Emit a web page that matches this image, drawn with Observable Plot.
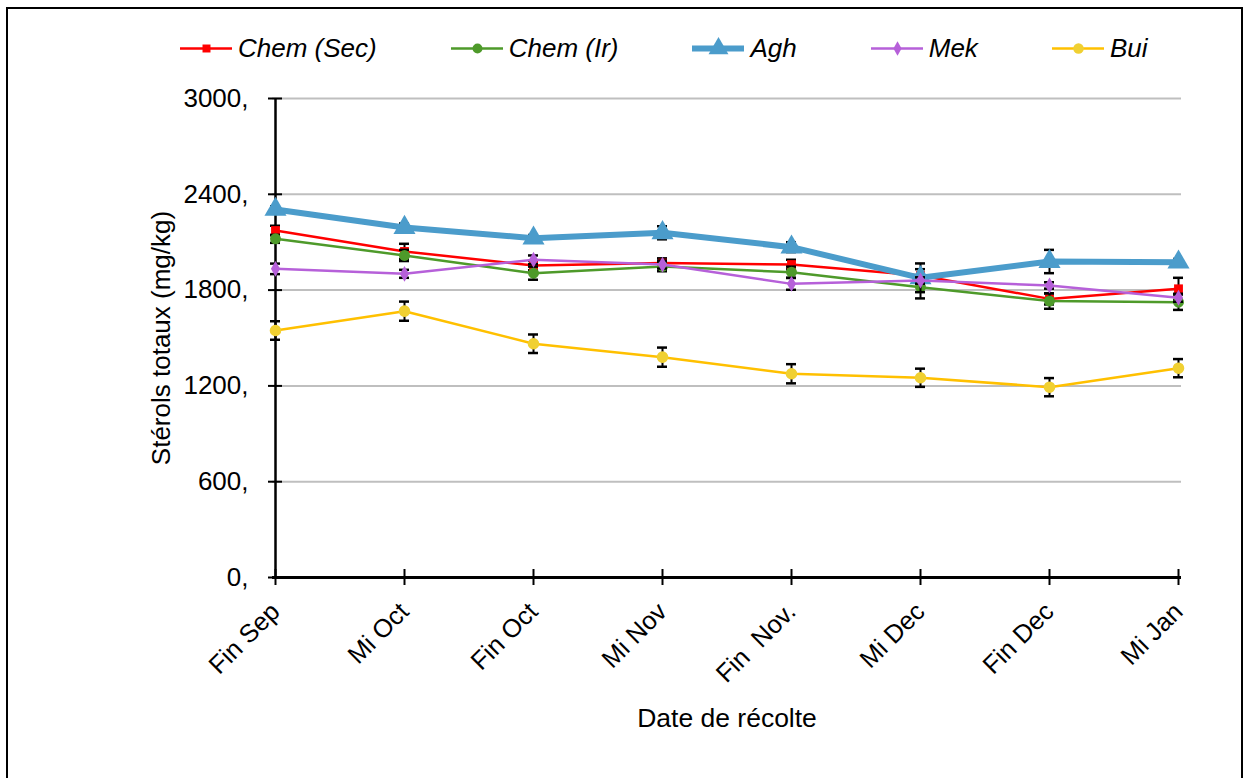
<!DOCTYPE html>
<html>
<head>
<meta charset="utf-8">
<script src="https://cdn.jsdelivr.net/npm/d3@7"></script>
<script src="https://cdn.jsdelivr.net/npm/@observablehq/plot@0.6"></script>
<style>
  body { margin: 0; background: #fff; font-family: "Liberation Sans", Arial, sans-serif; }
  #wrap { position: relative; width: 1250px; height: 778px; overflow: hidden; background: #fff; }
  #frame { position: absolute; left: 6px; top: 7px; width: 1237px; height: 840px; border: 2px solid #000; box-sizing: border-box; }
  #legend { position: absolute; left: 180px; top: 30px; height: 36px; display: flex; align-items: center; gap: 74px; }
  .item { display: flex; align-items: center; gap: 6px; font-style: italic; font-size: 26px; color: #000; }
  #chart { position: absolute; left: 0; top: 80px; }
  #chart svg text { white-space: pre; }
</style>
</head>
<body>
<div id="wrap">
  <div id="frame"></div>
  <div id="legend"></div>
  <div id="chart"></div>
</div>
<script>
// ---- data ----
const categories = ["Fin Sep", "Mi Oct", "Fin Oct", "Mi Nov", "Fin  Nov.", "Mi Dec", "Fin Dec", "Mi Jan"];
const seriesNames = ["Chem (Sec)", "Chem (Ir)", "Agh", "Mek", "Bui"];
const chemSec = [2173, 2042, 1954, 1969, 1960, 1891, 1745, 1808];
const chemIr  = [2121, 2017, 1906, 1948, 1912, 1818, 1731, 1724];
const agh     = [2305, 2192, 2125, 2159, 2069, 1877, 1979, 1975];
const mek     = [1933, 1902, 1990, 1960, 1839, 1860, 1829, 1752];
const bui     = [1547, 1668, 1464, 1380, 1276, 1251, 1192, 1311];
const chemSecErr = [30, 48, 30, 30, 30, 40, 35, 69];
const chemIrErr  = [25, 35, 41, 30, 35, 70, 48, 48];
const aghErr     = [20, 25, 20, 41, 31, 90, 73, 20];
const mekErr     = [33, 25, 27, 25, 37, 20, 20, 25];
const buiErr     = [58, 60, 58, 60, 60, 57, 57, 57];
const yTicks = [0, 600, 1200, 1800, 2400, 3000];
const xTitle = "Date de récolte";
const yTitle = "Stérols totaux (mg/kg)";

// ---- styles per series ----
const styles = {
  "Chem (Sec)": {stroke: "#FF0000", fill: "#FF0000", width: 2.5, symbol: "square", r: 5},
  "Chem (Ir)":  {stroke: "#4E9A2A", fill: "#4E9A2A", width: 2.5, symbol: "circle", r: 5.5},
  "Agh":        {stroke: "#4B9CCB", fill: "#4B9CCB", width: 6, symbol: "triangle", r: 8.2},
  "Mek":        {stroke: "#B660D9", fill: "#B660D9", width: 2.5, symbol: "diamond", r: 4.8},
  "Bui":        {stroke: "#FFC000", fill: "#F0D032", width: 2.5, symbol: "circle", r: 5.8}
};

const values = [chemSec, chemIr, agh, mek, bui];
const errs = [chemSecErr, chemIrErr, aghErr, mekErr, buiErr];
const rows = [];
seriesNames.forEach((s, si) => {
  categories.forEach((c, ci) => {
    rows.push({series: s, date: c, value: values[si][ci], err: errs[si][ci]});
  });
});

// ---- legend ----
const legend = document.getElementById("legend");
seriesNames.forEach(s => {
  const st = styles[s];
  const item = document.createElement("div");
  item.className = "item";
  const sw = Plot.plot({
    width: 52, height: 24, margin: 0,
    x: {domain: [0, 1], axis: null}, y: {domain: [0, 1], axis: null},
    marks: [
      Plot.ruleY([0.5], {x1: 0, x2: 1, stroke: st.stroke, strokeWidth: st.width}),
      Plot.dot([[0.5, 0.5]], {x: d => d[0], y: d => d[1], symbol: () => st.symbol, r: st.r * 0.9, fill: st.fill, stroke: "none"})
    ]
  });
  item.appendChild(sw);
  const t = document.createElement("span");
  t.textContent = s;
  item.appendChild(t);
  legend.appendChild(item);
});

// ---- chart ----
const marks = [
  Plot.gridY(yTicks, {stroke: "#BFBFBF", strokeOpacity: 1, strokeWidth: 2}),
  Plot.axisY(yTicks, {tickSize: 0, tickPadding: 24, tickFormat: d => d + ",", fontSize: 26, label: null}),
  Plot.axisX({tickSize: 0, tickRotate: -45, fontSize: 25.5, tickPadding: 30, label: null}),
  Plot.text([xTitle], {frameAnchor: "bottom", lineAnchor: "middle", dy: 141, fontSize: 26.5, fill: "#000"}),
  Plot.text([yTitle], {frameAnchor: "left", textAnchor: "middle", lineAnchor: "middle", rotate: -90, dx: -111, fontSize: 26, fill: "#000"}),
  Plot.ruleY([0], {stroke: "#000", strokeWidth: 3}),
  Plot.ruleX(categories, {x: d => d, y1: () => 0, y2: () => 0, insetTop: -8, insetBottom: -8, stroke: "#000", strokeWidth: 2}),
  Plot.ruleX([categories[0]], {y1: yTicks[0], y2: yTicks[yTicks.length - 1], stroke: "#000", strokeWidth: 2.5}),
  Plot.ruleY(yTicks, {y: d => d, x1: () => categories[0], x2: () => categories[0], insetLeft: -7, insetRight: -7, stroke: "#000", strokeWidth: 2})
];

seriesNames.forEach(s => {
  const st = styles[s];
  const data = rows.filter(r => r.series === s);
  marks.push(
    Plot.line(data, {x: "date", y: "value", stroke: st.stroke, strokeWidth: st.width}),
    Plot.ruleX(data, {x: "date", y1: d => d.value - d.err, y2: d => d.value + d.err, stroke: "#000", strokeWidth: 2}),
    Plot.ruleY(data, {x1: "date", x2: "date", y: d => d.value + d.err, insetLeft: -5, insetRight: -5, stroke: "#000", strokeWidth: 2.5}),
    Plot.ruleY(data, {x1: "date", x2: "date", y: d => d.value - d.err, insetLeft: -5, insetRight: -5, stroke: "#000", strokeWidth: 2.5}),
    Plot.dot(data, {x: "date", y: "value", symbol: () => st.symbol, r: st.r, fill: st.fill, stroke: "none"})
  );
});

const chart = Plot.plot({
  width: 1250, height: 698,
  marginTop: 18, marginBottom: 201, marginLeft: 272, marginRight: 69,
  style: {fontFamily: "'Liberation Sans', Arial, sans-serif", fontSize: "24px", color: "#000", background: "transparent"},
  x: {type: "point", domain: categories, padding: 0},
  y: {domain: [0, 3000]},
  marks
});
document.getElementById("chart").appendChild(chart);
</script>
</body>
</html>
